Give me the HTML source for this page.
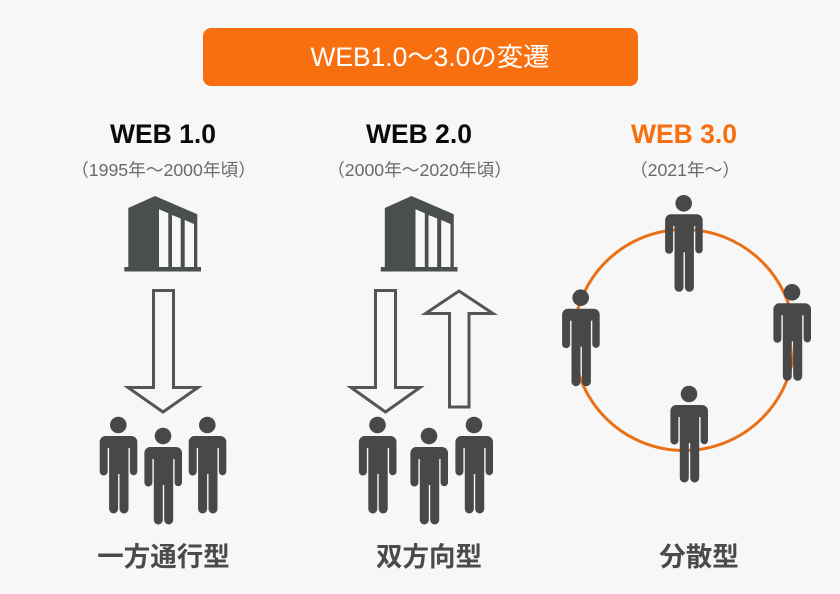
<!DOCTYPE html>
<html><head><meta charset="utf-8"><style>
html,body{margin:0;padding:0;background:#f7f7f7}
svg{display:block}
text{font-family:"Liberation Sans","Noto Sans CJK JP",sans-serif;text-anchor:middle}
.h{font-size:26.5px;font-weight:700;fill:#0a0a0a}
.s{font-size:17.7px;fill:#6a6a6a}
.b{font-size:26.5px;font-weight:700;fill:#4a4a4a}
</style></head><body>
<svg width="840" height="594" viewBox="0 0 840 594" xmlns="http://www.w3.org/2000/svg">
<defs>
<g id="p" fill="#484848">
<circle cx="0" cy="0" r="8.300"/>
<path d="M-13 11H13A6 6 0 0 1 19 17V46.500A3.700 3.700 0 0 1 11.600 46.500V23H10.200V84A4.500 4.500 0 0 1 1.200 84V49H-0.200V84A4.500 4.500 0 0 1 -9.200 84V23H-10.600V46.500A3.700 3.700 0 0 1 -18.600 46.500V17A6 6 0 0 1 -13 11Z"/>
</g>
<g id="bld">
<path d="M128.300 271V208L155 196L197.300 214.300V271Z" fill="#4a4f4e"/>
<path d="M124.300 267H201V271.500H124.300Z" fill="#4a4f4e"/>
<path d="M159 209.300L168.300 213.300V267H159ZM172 215L180.700 218.500V267H172ZM184.700 220L194 224V267H184.700Z" fill="#f7f7f7"/>
</g>
</defs>
<rect x="203" y="28" width="435" height="58" rx="8" fill="#f86f10"/>
<text x="430" y="66" font-size="26.400" fill="#fff">WEB1.0〜3.0の変遷</text>

<text class="h" x="163" y="143">WEB 1.0</text>
<text class="s" x="163.500" y="176">（1995年〜2000年頃）</text>
<text class="h" x="419" y="143">WEB 2.0</text>
<text class="s" x="419.500" y="176">（2000年〜2020年頃）</text>
<text class="h" x="684" y="143" style="fill:#f86f10">WEB 3.0</text>
<text class="s" x="685" y="176">（2021年〜）</text>

<use href="#bld"/>
<use href="#bld" x="256.500"/>

<g fill="none" stroke="#555" stroke-width="3">
<path d="M153.500 290.500H173.500V387.500H198L163 412L128 387.500H153.500Z"/>
<path d="M375.500 290.500H395.500V387.500H420L385.500 412L351 387.500H375.500Z"/>
<path d="M459 291L493 313.500H469V407H449.500V313.500H425.500Z"/>
</g>

<use href="#p" x="118.300" y="425"/>
<use href="#p" x="163" y="436"/>
<use href="#p" x="207.300" y="425"/>
<use href="#p" x="377.500" y="425"/>
<use href="#p" x="429" y="436"/>
<use href="#p" x="474" y="425"/>

<circle cx="684" cy="340" r="110.500" fill="none" stroke="#ea7016" stroke-width="3"/>
<use href="#p" x="683.700" y="203.300"/>
<use href="#p" x="792" y="292.300"/>
<use href="#p" x="580.700" y="297.700"/>
<use href="#p" x="689" y="394"/>

<text class="b" x="163.500" y="566">一方通行型</text>
<text class="b" x="429" y="566">双方向型</text>
<text class="b" x="699" y="566">分散型</text>
</svg>
</body></html>
